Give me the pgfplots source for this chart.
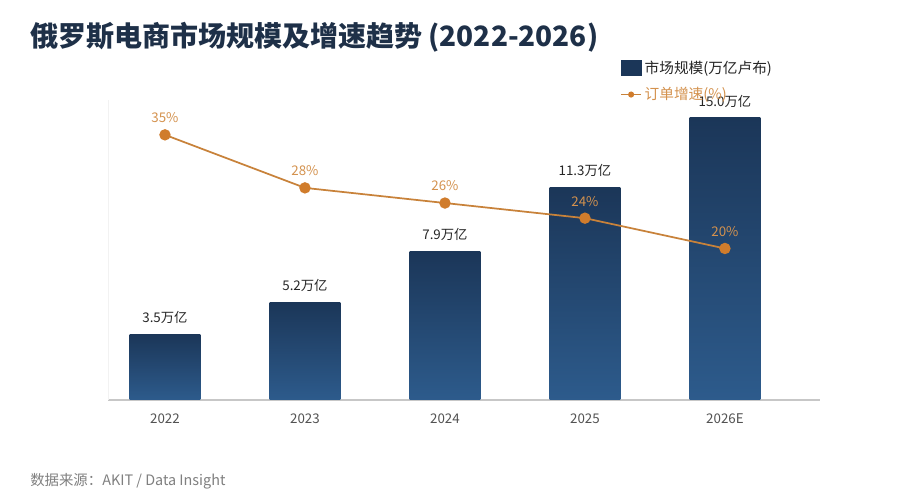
\documentclass[border=0pt]{standalone}
\usepackage{fontspec}
\setmainfont{Noto Sans CJK SC}
\usepackage{pgfplots}
\pgfplotsset{compat=1.18}
\pgfkeys{/pgf/number format/assume math mode=true}
\definecolor{barTop}{HTML}{1B3658}
\definecolor{barBot}{HTML}{2D5B8C}
\definecolor{lineC}{HTML}{C8823A}
\definecolor{markC}{HTML}{D07C2C}
\definecolor{lblC}{HTML}{D4924E}
\definecolor{titleC}{HTML}{1E3048}
\pgfplotsset{
  mybar/.style={ybar, bar width=53pt, draw=none, top color=barTop, bottom color=barBot,
    nodes near coords={\pgfmathprintnumber[fixed,fixed zerofill,precision=1]{\pgfplotspointmeta}万亿},
    every node near coord/.style={anchor=south, yshift=4pt, text=black!85, font=\fontsize{10}{12}\selectfont}}
}
\begin{document}
\begin{tikzpicture}[x=0.75pt,y=0.75pt]
\fill[white] (0,0) rectangle (900,500);
\node[anchor=west, inner sep=0pt, font=\bfseries\fontsize{21}{25}\selectfont, text=titleC] at (30,463) {俄罗斯电商市场规模及增速趋势 (2022-2026)};
\node[anchor=west, inner sep=0pt, font=\fontsize{10.8}{13}\selectfont, text=black!50] at (30,19) {数据来源：AKIT / Data Insight};

\begin{axis}[
  at={(81pt,75pt)}, anchor=south west,
  scale only axis, width=534pt, height=225pt,
  xmin=-0.407, xmax=4.679, ymin=0, ymax=15.92,
  axis x line*=bottom, axis y line*=left,
  x axis line style={-, draw=black!22, line width=1pt},
  y axis line style={-, draw=black!5, line width=0.6pt},
  xtick={0,1,2,3,4}, xticklabels={2022,2023,2024,2025,2026E},
  ytick=\empty, major tick length=0pt,
  xticklabel style={font=\fontsize{10}{12}\selectfont, text=black!68, yshift=-7pt},
  clip=false,
]
\addplot[mybar] coordinates {(0,3.5)};
\addplot[mybar] coordinates {(1,5.2)};
\addplot[mybar] coordinates {(2,7.9)};
\addplot[mybar] coordinates {(3,11.3)};
\addplot[mybar] coordinates {(4,15.0)};
\end{axis}

\begin{axis}[
  at={(81pt,75pt)}, anchor=south west,
  scale only axis, width=534pt, height=225pt,
  xmin=-0.407, xmax=4.679, ymin=0, ymax=39.6,
  hide axis, clip=false,
  legend style={draw=none, fill=none, at={(0.719,1.14)}, anchor=north west,
    font=\fontsize{11}{13}\selectfont, row sep=5pt, inner sep=0pt},
  legend cell align=left,
]
\addlegendimage{legend image code/.code={\fill[barTop] (0cm,-0.2cm) rectangle (0.53cm,0.2cm);}}
\addlegendentry[text=black!85]{市场规模(万亿卢布)}
\addplot[lineC, line width=1.3pt, mark=*, mark size=3.6pt, mark options={fill=markC, draw=markC},
  nodes near coords={\pgfmathprintnumber{\pgfplotspointmeta}\%},
  every node near coord/.style={anchor=south, yshift=5pt, text=lblC, font=\fontsize{10}{12}\selectfont},
  legend image code/.code={\draw[lineC, line width=1.3pt] (0cm,0cm) -- (0.53cm,0cm); \fill[markC] (0.265cm,0cm) circle (1.6pt);}]
  coordinates {(0,35) (1,28) (2,26) (3,24) (4,20)};
\addlegendentry[text=lblC]{订单增速(\%)}
\end{axis}
\end{tikzpicture}
\end{document}
